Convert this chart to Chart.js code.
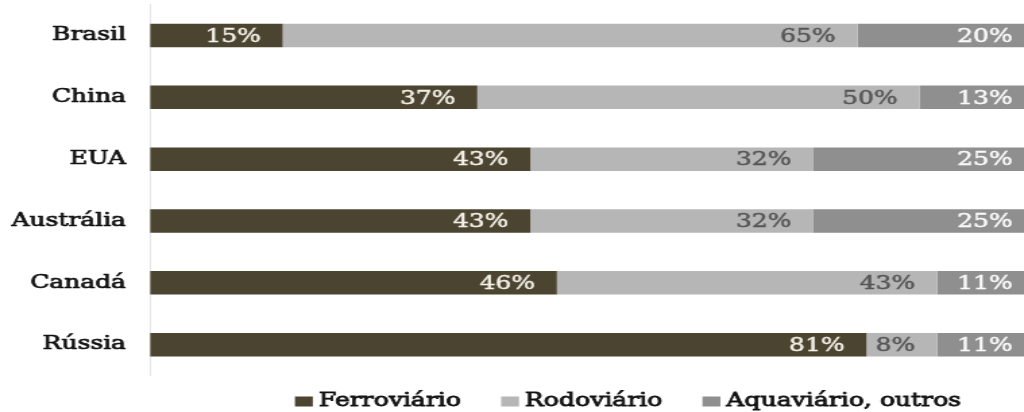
<!DOCTYPE html>
<html>
<head>
<meta charset="utf-8">
<script src="https://cdn.jsdelivr.net/npm/chart.js@4"></script>
<style>
  html, body { margin: 0; padding: 0; background: #fff; overflow: hidden; }
  #wrap { width: 759px; height: 412px; transform: scaleX(1.3491); transform-origin: 0 0; }
  canvas { display: block; }
</style>
</head>
<body>
<div id="wrap"><canvas id="c" width="759" height="412"></canvas></div>
<script>
const categories = ['Brasil', 'China', 'EUA', 'Austrália', 'Canadá', 'Rússia'];
const seriesNames = ['Ferroviário', 'Rodoviário', 'Aquaviário, outros'];
const ferroviario = [15, 37, 43, 43, 46, 81];
const rodoviario = [65, 50, 32, 32, 43, 8];
const aquaviario = [20, 13, 25, 25, 11, 11];

const FONT = '"DejaVu Serif", "Liberation Serif", serif';
const colors = ['#4b4431', '#b6b6b6', '#8f8f8f'];
const labelColors = ['#f3f0e6', '#555555', '#fafafa'];

const valueLabels = {
  id: 'valueLabels',
  afterDatasetsDraw(chart) {
    const ctx = chart.ctx;
    ctx.save();
    ctx.font = '18.5px ' + FONT;
    ctx.textAlign = 'right';
    ctx.textBaseline = 'middle';
    ctx.lineWidth = 0.45;
    chart.data.datasets.forEach((ds, i) => {
      const meta = chart.getDatasetMeta(i);
      meta.data.forEach((bar, j) => {
        ctx.fillStyle = labelColors[i];
        ctx.strokeStyle = labelColors[i];
        const t = ds.data[j] + '%';
        ctx.strokeText(t, bar.x - 16.3, bar.y + 1.5);
        ctx.fillText(t, bar.x - 16.3, bar.y + 1.5);
      });
    });
    ctx.restore();
  }
};

const bottomLegend = {
  id: 'bottomLegend',
  afterDraw(chart) {
    const ctx = chart.ctx;
    ctx.save();
    ctx.font = '18.6px ' + FONT;
    ctx.textBaseline = 'middle';
    ctx.textAlign = 'left';
    ctx.lineWidth = 0.8;
    const boxW = 13.3, boxH = 10, gap = 4.4, spacing = 29.7;
    const items = chart.data.datasets.map(ds => ({ text: ds.label, color: ds.backgroundColor, w: ctx.measureText(ds.label).width }));
    let total = items.reduce((s, it) => s + boxW + gap + it.w, 0) + spacing * (items.length - 1);
    let x = 465.5 - total / 2;
    const y = 401.5;
    items.forEach(it => {
      ctx.fillStyle = it.color;
      ctx.fillRect(x, y - boxH / 2, boxW, boxH);
      x += boxW + gap;
      ctx.fillStyle = '#111111';
      ctx.strokeStyle = '#111111';
      ctx.strokeText(it.text, x, y);
      ctx.fillText(it.text, x, y);
      x += it.w + spacing;
    });
    ctx.restore();
  }
};

new Chart(document.getElementById('c'), {
  type: 'bar',
  data: {
    labels: categories,
    datasets: [
      { label: seriesNames[0], data: ferroviario, backgroundColor: colors[0] },
      { label: seriesNames[1], data: rodoviario, backgroundColor: colors[1] },
      { label: seriesNames[2], data: aquaviario, backgroundColor: colors[2] }
    ]
  },
  options: {
    indexAxis: 'y',
    responsive: false,
    animation: false,
    devicePixelRatio: 1,
    layout: { padding: { top: 4.6, bottom: 36.4, left: 0, right: 0 } },
    datasets: { bar: { categoryPercentage: 1, barPercentage: 0.38, borderWidth: 0 } },
    plugins: { legend: { display: false }, tooltip: { enabled: false } },
    scales: {
      x: { stacked: true, min: 0, max: 98.8, display: false },
      y: {
        stacked: true,
        grid: { display: false, drawTicks: false },
        border: { display: true, color: '#e6e6e6', width: 1 },
        ticks: {
          color: '#111111', padding: 17.8, font: { family: FONT, size: 18.5 },
          textStrokeColor: '#111111', textStrokeWidth: 0.7
        },
        afterFit(scale) { scale.width = 111.2; scale.paddingTop = 0; scale.paddingBottom = 0; }
      }
    }
  },
  plugins: [valueLabels, bottomLegend]
});
</script>
</body>
</html>
